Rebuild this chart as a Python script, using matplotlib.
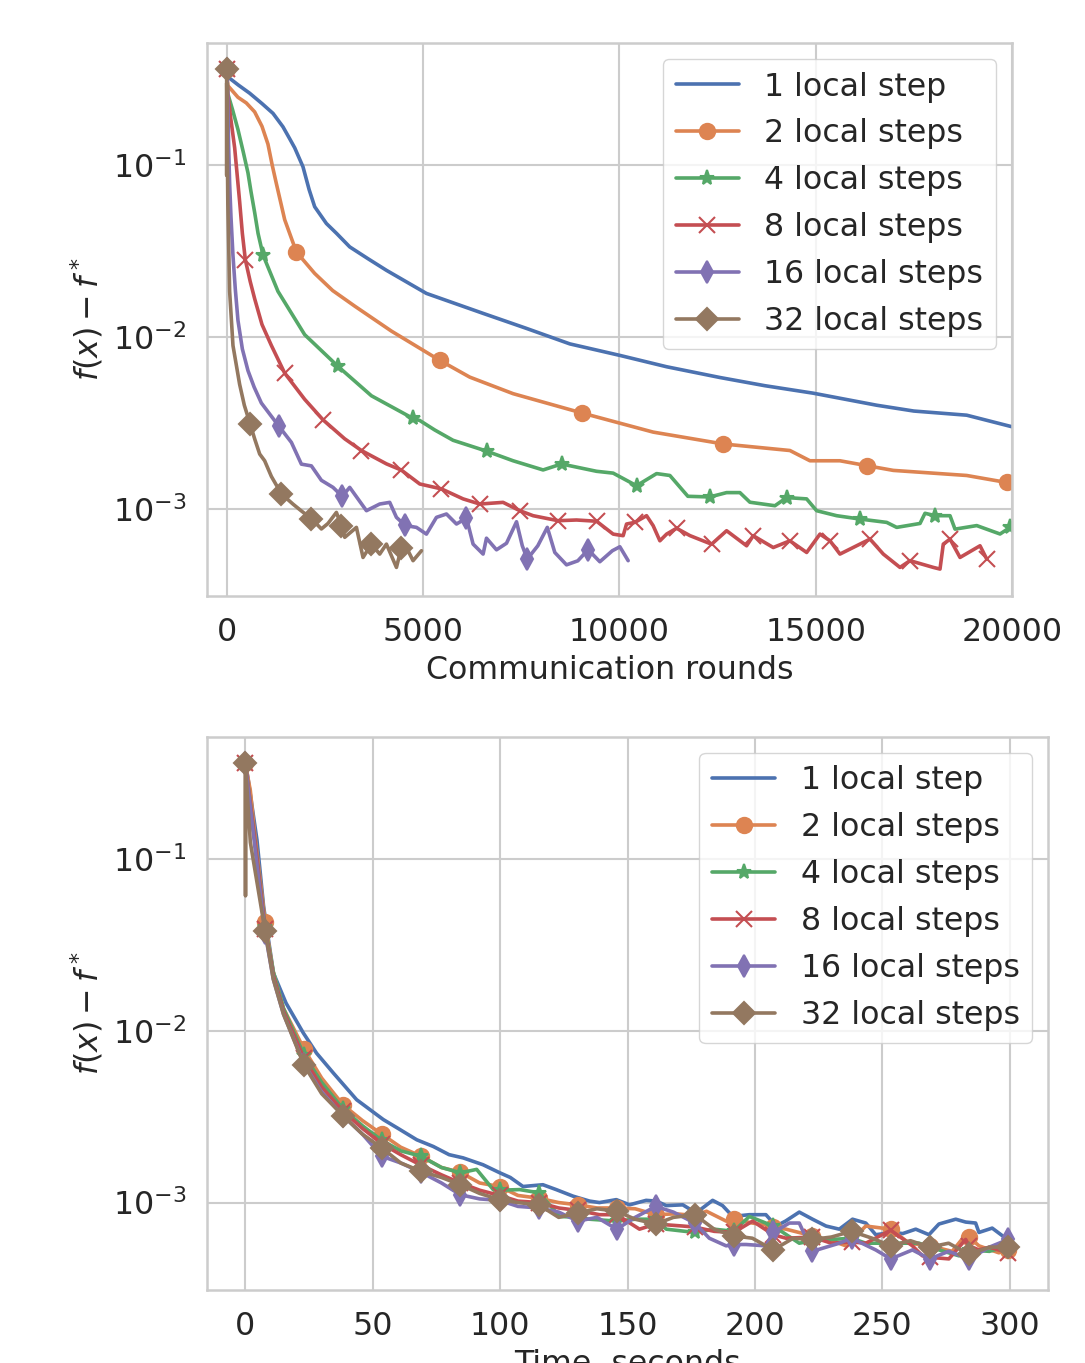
import numpy as np
import matplotlib
matplotlib.use('Agg')
import matplotlib.pyplot as plt
import seaborn as sns

sns.set_theme(style='whitegrid', palette='deep')
plt.rcParams.update({
    'font.family': ['DejaVu Sans'],
    'font.size': 22.8,
    'axes.labelsize': 22.8,
    'xtick.labelsize': 22.8,
    'ytick.labelsize': 22.8,
    'legend.fontsize': 22.8,
    'axes.linewidth': 1.8,
    'grid.linewidth': 1.5,
    'xtick.major.size': 0,
    'ytick.major.size': 0,
    'xtick.minor.size': 0,
    'ytick.minor.size': 0,
    'xtick.major.pad': 15,
    'ytick.major.pad': 15,
    'axes.labelpad': 5,
    'lines.linewidth': 2.6,
    'lines.markersize': 11,
    'lines.markeredgewidth': 1.5,
})

labels = ['1 local step', '2 local steps', '4 local steps',
          '8 local steps', '16 local steps', '32 local steps']
colors = sns.color_palette('deep')[:6]
markers = [None, 'o', '*', 'x', 'd', 'D']

# ---- top: f(x) - f* vs communication rounds ----
r1_x = [0, 30, 300, 586, 900, 1180, 1434, 1600, 1733, 1944, 2100, 2242, 2540, 2800, 3134, 3600,
        4069, 5088, 6531, 7636, 8740, 10014, 11204, 12562, 13700, 14939, 16554, 17500, 18847,
        19994]
r1_y = [0.36, 0.326, 0.292, 0.262, 0.228, 0.2, 0.167, 0.143, 0.126, 0.0977, 0.072, 0.0572,
        0.0457, 0.040, 0.0334, 0.0285, 0.0244, 0.0179, 0.0137, 0.0112, 0.0091, 0.0078, 0.0067,
        0.0058, 0.0052, 0.0047, 0.0040, 0.0037, 0.0035, 0.0030]

r2_x = [0, 30, 288, 500, 713, 900, 1052, 1160, 1266, 1478, 1776, 2242, 2700, 3261, 4197, 5427,
        6191, 7295, 9038, 10862, 12646, 14345, 14855, 15619, 16299, 16977, 18847, 19866, 20000]
r2_y = [0.36, 0.29, 0.248, 0.23, 0.204, 0.168, 0.1324, 0.1, 0.078, 0.0481, 0.0312, 0.0234,
        0.0186, 0.0151, 0.0108, 0.0073, 0.00583, 0.00467, 0.00361, 0.00279, 0.00238, 0.00218,
        0.0019, 0.0019, 0.00178, 0.00167, 0.00156, 0.00142, 0.00141]
r2_marks = [0, 1776, 5427, 9038, 12646, 16299, 19866]

r4_x = [0, 30, 150, 288, 420, 543, 620, 713, 800, 925, 1307, 1987, 2836, 3687, 4747, 4918, 5300,
        5766, 6625, 7295, 8059, 8528, 9420, 9843, 10439, 10949, 11288, 11746, 12306, 12732,
        13071, 13326, 13963, 14261, 14770, 15025, 15535, 16129, 16809, 17064, 17658, 17785,
        18040, 18422, 18549, 19102, 19696, 19951]
r4_y = [0.36, 0.26, 0.21, 0.161, 0.12, 0.0901, 0.07, 0.053, 0.04, 0.030, 0.0184, 0.0103, 0.00673,
        0.00454, 0.00335, 0.00326, 0.00287, 0.0025, 0.00216, 0.0019, 0.00168, 0.00182, 0.00165,
        0.00161, 0.00136, 0.0016, 0.00156, 0.00118, 0.00117, 0.00124, 0.00124, 0.00109, 0.00104,
        0.00116, 0.00114, 0.000973, 0.00091, 0.00087, 0.000832, 0.000778, 0.00082, 0.00094,
        0.00091, 0.00091, 0.00076, 0.000797, 0.000712, 0.000778]
r4_marks = [0, 925, 2836, 4747, 6625, 8528, 10439, 12306, 14261, 16129, 18040, 19951]

r8_x = [0, 30, 100, 204, 331, 400, 476, 600, 713, 900, 1139, 1478, 1987, 2454, 3007, 3432, 4069,
        4451, 4918, 5471, 6021, 6446, 7040, 7466, 7804, 8441, 8910, 9420, 9843, 10098, 10184,
        10396, 10694, 10862, 11033, 11204, 11458, 11797, 12350, 12732, 13242, 13410, 13920,
        14345, 14771, 15110, 15365, 15619, 16129, 16384, 16723, 17148, 17403, 17997, 18167,
        18251, 18422, 18677, 19186, 19357]
r8_y = [0.36, 0.26, 0.19, 0.126, 0.0612, 0.04, 0.0281, 0.021, 0.01668, 0.0118, 0.00891, 0.00615,
        0.00433, 0.00329, 0.00255, 0.00218, 0.001823, 0.001676, 0.001392, 0.001303, 0.00114,
        0.001064, 0.001088, 0.000973, 0.00091, 0.000851, 0.000859, 0.000845, 0.000711, 0.000696,
        0.000814, 0.000832, 0.00091, 0.000796, 0.00065, 0.000711, 0.000769, 0.000697, 0.000621,
        0.000744, 0.000608, 0.000696, 0.000594, 0.00065, 0.000556, 0.000711, 0.00065, 0.000544,
        0.000622, 0.000665, 0.000544, 0.000455, 0.000498, 0.000455, 0.000445, 0.000622,
        0.000665, 0.00052, 0.000608, 0.000509]
r8_marks = [0, 476, 1478, 2454, 3432, 4451, 5471, 6446, 7466, 8441, 9420, 10396, 11458, 12350,
            13410, 14345, 15365, 16384, 17403, 18422, 19357]

r16_x = [0, 30, 50, 76, 110, 161, 220, 288, 400, 543, 700, 884, 1325, 1649, 1903, 2158, 2413,
         2709, 2943, 3134, 3560, 3898, 4153, 4324, 4548, 4834, 5088, 5343, 5598, 5853, 6108,
         6276, 6531, 6617, 6872, 7127, 7382, 7529, 7657, 7924, 8166, 8357, 8655, 8943, 9206,
         9504, 9823, 10014, 10225]
r16_y = [0.36, 0.25, 0.13, 0.078, 0.05, 0.0297, 0.019, 0.01247, 0.0085, 0.00636, 0.0051, 0.00412,
         0.00303, 0.00243, 0.001816, 0.001774, 0.001462, 0.00133, 0.00118, 0.00133, 0.000973,
         0.001064, 0.001088, 0.00089, 0.000798, 0.000778, 0.000711, 0.00089, 0.000931, 0.000814,
         0.000881, 0.000622, 0.000544, 0.000673, 0.000576, 0.000629, 0.000839, 0.000608,
         0.000509, 0.000608, 0.000778, 0.000556, 0.000471, 0.000497, 0.000577, 0.000491,
         0.000569, 0.0006, 0.000498]
r16_marks = [0, 1325, 2943, 4548, 6108, 7657, 9206]

r32_x = [0, 1, 2, 30, 76, 161, 330, 450, 600, 713, 841, 968, 1139, 1394, 1689, 1903, 2158, 2413,
         2581, 2795, 2922, 3007, 3305, 3473, 3686, 3898, 4069, 4324, 4450, 4579, 4747, 4961]
r32_y = [0.36, 0.087, 0.30, 0.06, 0.0184, 0.0089, 0.0053, 0.0040, 0.0031, 0.00255, 0.00208,
         0.0019, 0.00154, 0.00122, 0.001063, 0.00097, 0.000875, 0.000762, 0.00082, 0.000951,
         0.000796, 0.000681, 0.000778, 0.00052, 0.000622, 0.000544, 0.000622, 0.000455, 0.000593,
         0.000594, 0.000498, 0.000569]
r32_marks = [0, 600, 1394, 2158, 2922, 3686, 4450]

# ---- bottom: f(x) - f* vs time ----
t_marks = [0, 7.8, 23.1, 38.4, 53.6, 69.0, 84.4, 99.8, 115.2, 130.5, 145.8, 161.1, 176.4,
           191.7, 207.2, 222.5, 237.9, 253.3, 268.6, 284.0, 299.4]

t1_x = [0, 1, 4.6, 7.2, 9.1, 11.1, 16, 22.8, 28, 34.6, 43.7, 54.2, 60, 67.3, 73.8, 80, 85.5,
        93.3, 99.9, 104, 109, 116.8, 122, 128.6, 135.1, 139, 145.6, 150.8, 157.3, 161.3, 165.2,
        171.7, 176.9, 183.4, 187.3, 191.3, 197.8, 204.3, 208.3, 212, 217.4, 222.6, 227.9, 233.1,
        238.3, 243.5, 247.4, 254, 258, 263.1, 268.3, 272.2, 278.8, 282.7, 286.6, 287.9, 293.1,
        298.4, 300.3]
t1_y = [0.36, 0.3, 0.129, 0.053, 0.034, 0.0216, 0.0145, 0.0097, 0.0074, 0.00567, 0.00397,
        0.00304, 0.0027, 0.00232, 0.00212, 0.0019, 0.00182, 0.00166, 0.00149, 0.0014, 0.00124,
        0.00127, 0.00119, 0.00109, 0.00102, 0.001, 0.00104, 0.00097, 0.00103, 0.00102, 0.00096,
        0.00097, 0.00087, 0.00103, 0.00096, 0.00083, 0.00085, 0.00085, 0.00073, 0.00078, 0.00088,
        0.0008, 0.00073, 0.0007, 0.0008, 0.00076, 0.00065, 0.00067, 0.00066, 0.0007, 0.00065,
        0.00075, 0.0008, 0.00077, 0.00076, 0.00067, 0.00071, 0.00062, 0.00061]

t2_x = [0, 2, 3.5, 7.8, 11, 15, 23.1, 30, 38.4, 46, 53.6, 61, 69.0, 77, 84.4, 92, 99.8, 107,
        115.2, 123, 130.5, 138, 145.8, 153, 161.1, 169, 176.4, 181, 188.7, 191.7, 199, 204.3,
        207.2, 212.2, 222.5, 230, 235.7, 243.5, 253.3, 260.5, 268.6, 277.4, 282.7, 284.0, 287.9,
        295.7, 299.4]
t2_y = [0.36, 0.25, 0.15, 0.043, 0.022, 0.0135, 0.0078, 0.0053, 0.0037, 0.003, 0.0025, 0.0021,
        0.00186, 0.0016, 0.0015, 0.0013, 0.00124, 0.0011, 0.00106, 0.001, 0.00097, 0.00093,
        0.00093, 0.00092, 0.00085, 0.00086, 0.00084, 0.00089, 0.00078, 0.0008, 0.00076, 0.00074,
        0.00072, 0.0007, 0.00064, 0.0006, 0.00056, 0.00073, 0.0007, 0.00058, 0.00056, 0.00052,
        0.00065, 0.00063, 0.00056, 0.00051, 0.00053]

t4_x = [0, 2, 4, 7.8, 11, 15, 23.1, 30, 38.4, 46, 53.6, 61, 69.0, 77, 84.4, 90.8, 97.3, 99.8,
        107.7, 115.2, 123.4, 130.5, 135.1, 145.8, 153, 161.1, 165.2, 176.4, 184, 191.7, 197.8,
        207.2, 217.4, 222.5, 230.4, 237.9, 243.5, 253.3, 264.4, 268.6, 280, 284.0, 292, 299.4]
t4_y = [0.36, 0.21, 0.12, 0.04, 0.022, 0.0135, 0.0072, 0.005, 0.0035, 0.0028, 0.0023, 0.002,
        0.00186, 0.0016, 0.00149, 0.00156, 0.00119, 0.00118, 0.00119, 0.00114, 0.00083, 0.00082,
        0.0008, 0.00078, 0.0008, 0.0008, 0.0007, 0.00067, 0.0007, 0.00068, 0.00083, 0.00073,
        0.00058, 0.0006, 0.00061, 0.00062, 0.00058, 0.00058, 0.00058, 0.00055, 0.00049, 0.00053,
        0.00052, 0.00056]

t8_x = [0, 2, 4, 7.8, 11, 15, 23.1, 30, 38.4, 46, 53.6, 61, 69.0, 77, 84.4, 92, 99.8, 107,
        115.2, 123, 130.5, 139, 145.8, 154.7, 161.1, 171.7, 176.4, 184, 191.7, 199.1, 207.2,
        212.2, 222.5, 230, 237.9, 243.5, 253.3, 261.8, 265.7, 268.6, 276.1, 282.7, 284.0, 287.9,
        292, 299.4]
t8_y = [0.36, 0.21, 0.12, 0.039, 0.021, 0.013, 0.0069, 0.0047, 0.0034, 0.0027, 0.0022, 0.0019,
        0.00165, 0.00145, 0.0013, 0.00118, 0.0011, 0.00102, 0.001, 0.00093, 0.0009, 0.00085,
        0.00085, 0.0007, 0.00075, 0.00073, 0.00072, 0.00068, 0.00067, 0.00078, 0.00065, 0.00062,
        0.00063, 0.00058, 0.00059, 0.00058, 0.00069, 0.00056, 0.00049, 0.00048, 0.00047, 0.00061,
        0.00056, 0.00053, 0.00055, 0.00051]

t16_x = [0, 2, 4, 7.8, 11, 15, 23.1, 30, 38.4, 46, 53.6, 61, 69.0, 77, 84.4, 92, 99.8, 107,
         115.2, 123, 130.5, 138, 145.8, 153, 161.1, 168, 176.4, 182.1, 188.7, 191.7, 196.5, 204.3,
         207.2, 213.5, 217.4, 222.5, 233.1, 237.9, 247.4, 253.3, 261.8, 268.6, 276, 284.0, 292,
         299.4]
t16_y = [0.36, 0.2, 0.11, 0.037, 0.02, 0.0125, 0.0064, 0.0044, 0.0032, 0.0025, 0.00186, 0.0017,
         0.0015, 0.0013, 0.00111, 0.00105, 0.00103, 0.00095, 0.00093, 0.00088, 0.00078, 0.00082,
         0.0007, 0.00082, 0.00095, 0.00088, 0.00076, 0.00062, 0.00056, 0.00057, 0.00057, 0.00056,
         0.00067, 0.00076, 0.00076, 0.00052, 0.00058, 0.00062, 0.00053, 0.00047, 0.00053, 0.00047,
         0.00052, 0.00047, 0.00055, 0.00061]

t32_x = [0, 0.1, 0.2, 2, 7.8, 11, 15, 23.1, 30, 38.4, 46, 53.6, 61, 69.0, 77, 84.4, 92, 99.8,
         107, 115.2, 123, 130.5, 138, 145.8, 153, 161.1, 168, 176.4, 184, 191.7, 199, 207.2, 215,
         222.5, 230, 237.9, 246, 253.3, 261, 268.6, 276, 284.0, 292, 299.4]
t32_y = [0.36, 0.061, 0.33, 0.125, 0.038, 0.02, 0.0125, 0.0063, 0.0043, 0.0032, 0.0025, 0.00208,
         0.0017, 0.00152, 0.0014, 0.00127, 0.00113, 0.00104, 0.001, 0.00097, 0.00082, 0.00087,
         0.00092, 0.00089, 0.0008, 0.00075, 0.00082, 0.00085, 0.0007, 0.00064, 0.00062, 0.00053,
         0.00062, 0.00061, 0.00063, 0.00068, 0.00062, 0.00056, 0.0006, 0.00055, 0.00058, 0.0005,
         0.00055, 0.00055]

fig = plt.figure(figsize=(10.85, 13.63), dpi=100)
ax1 = fig.add_axes([0.1908, 0.5627, 0.7419, 0.4057])
ax2 = fig.add_axes([0.1908, 0.0536, 0.7751, 0.4057])

rounds = [(r1_x, r1_y, []), (r2_x, r2_y, r2_marks), (r4_x, r4_y, r4_marks),
          (r8_x, r8_y, r8_marks), (r16_x, r16_y, r16_marks), (r32_x, r32_y, r32_marks)]
times = [(t1_x, t1_y), (t2_x, t2_y), (t4_x, t4_y), (t8_x, t8_y), (t16_x, t16_y), (t32_x, t32_y)]

for (x, y, mk), lab, c, m in zip(rounds, labels, colors, markers):
    ax1.plot(x, y, color=c, marker=m, markevery=list(np.isin(x, mk)), label=lab)

for (x, y), lab, c, m in zip(times, labels, colors, markers):
    ax2.plot(x, y, color=c, marker=m, markevery=list(np.isin(x, t_marks)), label=lab)

for ax in (ax1, ax2):
    ax.set_yscale('log')
    ax.set_ylim(3.1e-4, 0.513)
    ax.set_ylabel('$f(x) - f^*$')
    ax.grid(True, which='major')
    ax.grid(False, which='minor')
    ax.legend(loc='upper right')

ax1.set_xlim(-500, 20000)
ax1.set_xticks([0, 5000, 10000, 15000, 20000])
ax1.set_xlabel('Communication rounds')
ax2.set_xlim(-15, 315)
ax2.set_xticks([0, 50, 100, 150, 200, 250, 300])
ax2.set_xlabel('Time, seconds')

fig.savefig('out.png', dpi=100)
